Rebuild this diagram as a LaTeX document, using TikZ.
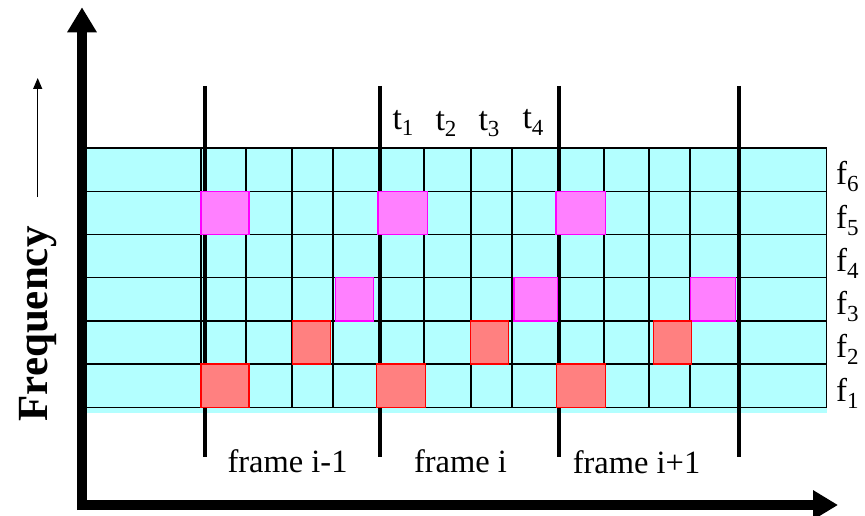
\documentclass[tikz,border=0pt]{standalone}
\usepackage{fontspec}
\setmainfont{Liberation Serif}
\usetikzlibrary{arrows.meta}

\definecolor{cellcyan}{HTML}{B3FFFF}
\definecolor{hopmagfill}{HTML}{FF80FF}
\definecolor{hopmagline}{HTML}{FF00FF}
\definecolor{hopredfill}{HTML}{FF8080}
\definecolor{hopredline}{HTML}{FF0000}

% lowered index set in a smaller size
\newcommand{\lowidx}[2][6pt]{\raisebox{-#1}{\fontsize{23}{23}\selectfont #2}}

\begin{document}
\begin{tikzpicture}[x=1pt,y=-1pt,
  gridline/.style={line width=1.4pt, black},
  framebar/.style={line width=4.6pt, black},
  hopmag/.style={fill=hopmagfill, draw=hopmagline, line width=1.4pt},
  hopred/.style={fill=hopredfill, draw=hopredline, line width=1.4pt},
  axisline/.style={line width=10pt, -{Triangle[length=25pt,width=28pt]}},
  tlbl/.style={font=\fontsize{34}{34}\selectfont, inner sep=0pt, anchor=base},
  flbl/.style={font=\fontsize{33}{33}\selectfont, inner sep=0pt, anchor=base west},
  framelbl/.style={font=\fontsize{32.5}{32.5}\selectfont, inner sep=0pt, anchor=base}]

\useasboundingbox (0,0) rectangle (865,516);

% time/frequency grid background
\fill[cellcyan] (82,148) rectangle (826.7,412.7);

% horizontal grid lines (frequency slots)
\foreach \yy in {148,191.2,234.4,277.6,320.8,364,407.2}
  \draw[gridline] (82,\yy) -- (826.7,\yy);
% vertical grid lines (time slots)
\foreach \xx in {201,246,292,333,380,424,471,512,559,604,649,690,739,826.7}
  \draw[gridline] (\xx,148) -- (\xx,407.2);

% frame boundaries
\foreach \xx/\nm in {205/fa,380/fb,559/fc,739/fd}{
  \coordinate (\nm top) at (\xx,86);
  \coordinate (\nm bot) at (\xx,457);
  \draw[framebar] (\nm top) -- (\nm bot);
}

% hopping pattern: f5 and f3 slots
\foreach \xa/\xb in {201/249,378/427.7,556/605.3}
  \draw[hopmag] (\xa,191.2) rectangle (\xb,234.4);
\foreach \xa/\xb in {335.7/373.3,514/557.3,690.7/735.3}
  \draw[hopmag] (\xa,277.6) rectangle (\xb,320.8);
% hopping pattern: f2 and f1 slots
\foreach \xa/\xb in {292.7/330.3,470.7/508.3,653.7/691.3}
  \draw[hopred] (\xa,320.8) rectangle (\xb,364);
\foreach \xa/\xb in {201/249,376.7/425.3,556.3/605.3}
  \draw[hopred] (\xa,364) rectangle (\xb,407.2);

% time slot labels
\node[tlbl] (t1) at (403,130) {t\lowidx{1}};
\node[tlbl] (t2) at (446,131) {t\lowidx{2}};
\node[tlbl] (t3) at (489,131) {t\lowidx{3}};
\node[tlbl] (t4) at (533,129) {t\lowidx{4}};

% frequency labels
\foreach \k/\yy in {6/185,5/228.2,4/271.4,3/314.6,2/357.8,1/401}
  \node[flbl] (f\k) at (836,\yy) {f\lowidx[7pt]{\k}};

% frame labels
\node[framelbl] (frA) at (287.5,472) {frame i-1};
\node[framelbl] (frB) at (460.5,472) {frame i};
\node[framelbl] (frC) at (636.5,473) {frame i+1};

% axes
\coordinate (ybot) at (82,510);
\coordinate (ytop) at (82,7.3);
\coordinate (xleft) at (77,505);
\coordinate (xright) at (838,505);
\draw[axisline] (ybot) -- (ytop);
\draw[axisline] (xleft) -- (xright);

% frequency axis caption with its small arrow
\node[rotate=90, inner sep=0pt, font=\bfseries\fontsize{43}{43}\selectfont] (freq) at (38,324) {Frequency};
\coordinate (fqtail) at (37.7,197);
\coordinate (fqtip) at (37.7,78);
\draw[line width=1.3pt, -{Triangle[length=11pt,width=9pt]}] (fqtail) -- (fqtip);

\end{tikzpicture}
\end{document}
